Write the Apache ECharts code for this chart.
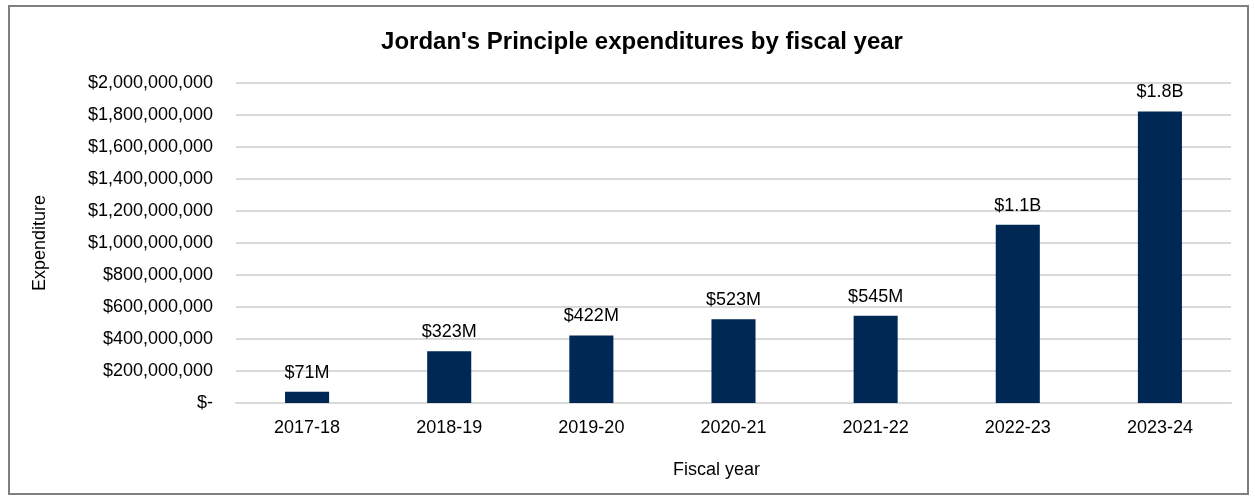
<!DOCTYPE html>
<html>
<head>
<meta charset="utf-8">
<style>
  html, body { margin: 0; padding: 0; background: #fff; }
  #frame { position: absolute; left: 8px; top: 5px; width: 1237px; height: 486px; border: 2px solid #7f7f7f; }
  #chart { position: absolute; left: 0; top: 0; width: 1255px; height: 499px; }
</style>
<script src="https://cdn.jsdelivr.net/npm/echarts@6/dist/echarts.min.js"></script>
</head>
<body>
<div id="frame"></div>
<div id="chart"></div>
<script>
// Fiscal years and total spending (CAD)
const fiscalYears = ['2017-18', '2018-19', '2019-20', '2020-21', '2021-22', '2022-23', '2023-24'];
const expenditures = [71000000, 323000000, 422000000, 523000000, 545000000, 1114000000, 1822000000];
const yTicks = [0, 200000000, 400000000, 600000000, 800000000, 1000000000, 1200000000, 1400000000, 1600000000, 1800000000, 2000000000];

const FONT = '"Liberation Sans", Arial, sans-serif';

function moneyTick(v) {
  if (v === 0) return '$-';
  return '$' + v.toLocaleString('en-US');
}
function shortMoney(v) {
  if (v >= 1e9) return '$' + (v / 1e9).toFixed(1) + 'B';
  return '$' + Math.round(v / 1e6) + 'M';
}

const chart = echarts.init(document.getElementById('chart'), null, { renderer: 'canvas' });
chart.setOption({
  animation: false,
  title: {
    text: "Jordan's Principle expenditures by fiscal year",
    left: 637, top: 25, textAlign: 'center',
    textStyle: { fontFamily: FONT, fontSize: 24, fontWeight: 'bold', color: '#000' }
  },
  grid: { left: 236, right: 24, top: 83, bottom: 96, containLabel: false },
  xAxis: {
    type: 'category',
    data: fiscalYears,
    name: 'Fiscal year',
    nameLocation: 'middle',
    nameGap: 58,
    nameTextStyle: { fontFamily: FONT, fontSize: 18, color: '#000', padding: [0, 34, 0, 0] },
    axisLine: { show: true, lineStyle: { color: '#d9d9d9', width: 2 } },
    axisTick: { show: false },
    axisLabel: { fontFamily: FONT, fontSize: 18, color: '#000', margin: 16 }
  },
  yAxis: {
    type: 'value',
    min: yTicks[0],
    max: yTicks[yTicks.length - 1],
    interval: yTicks[1] - yTicks[0],
    name: 'Expenditure',
    nameLocation: 'middle',
    nameGap: 187,
    nameRotate: 90,
    nameTextStyle: { fontFamily: FONT, fontSize: 18, color: '#000' },
    axisLine: { show: false },
    axisTick: { show: false },
    splitLine: { lineStyle: { color: '#d9d9d9', width: 2 } },
    axisLabel: { fontFamily: FONT, fontSize: 18, color: '#000', margin: 23, formatter: moneyTick }
  },
  series: [{
    type: 'bar',
    data: expenditures,
    barWidth: '31%',
    itemStyle: { color: '#002855' },
    label: {
      show: true,
      position: 'top',
      distance: 10,
      fontFamily: FONT,
      fontSize: 18,
      color: '#000',
      formatter: p => shortMoney(p.value)
    }
  }]
});
</script>
</body>
</html>
